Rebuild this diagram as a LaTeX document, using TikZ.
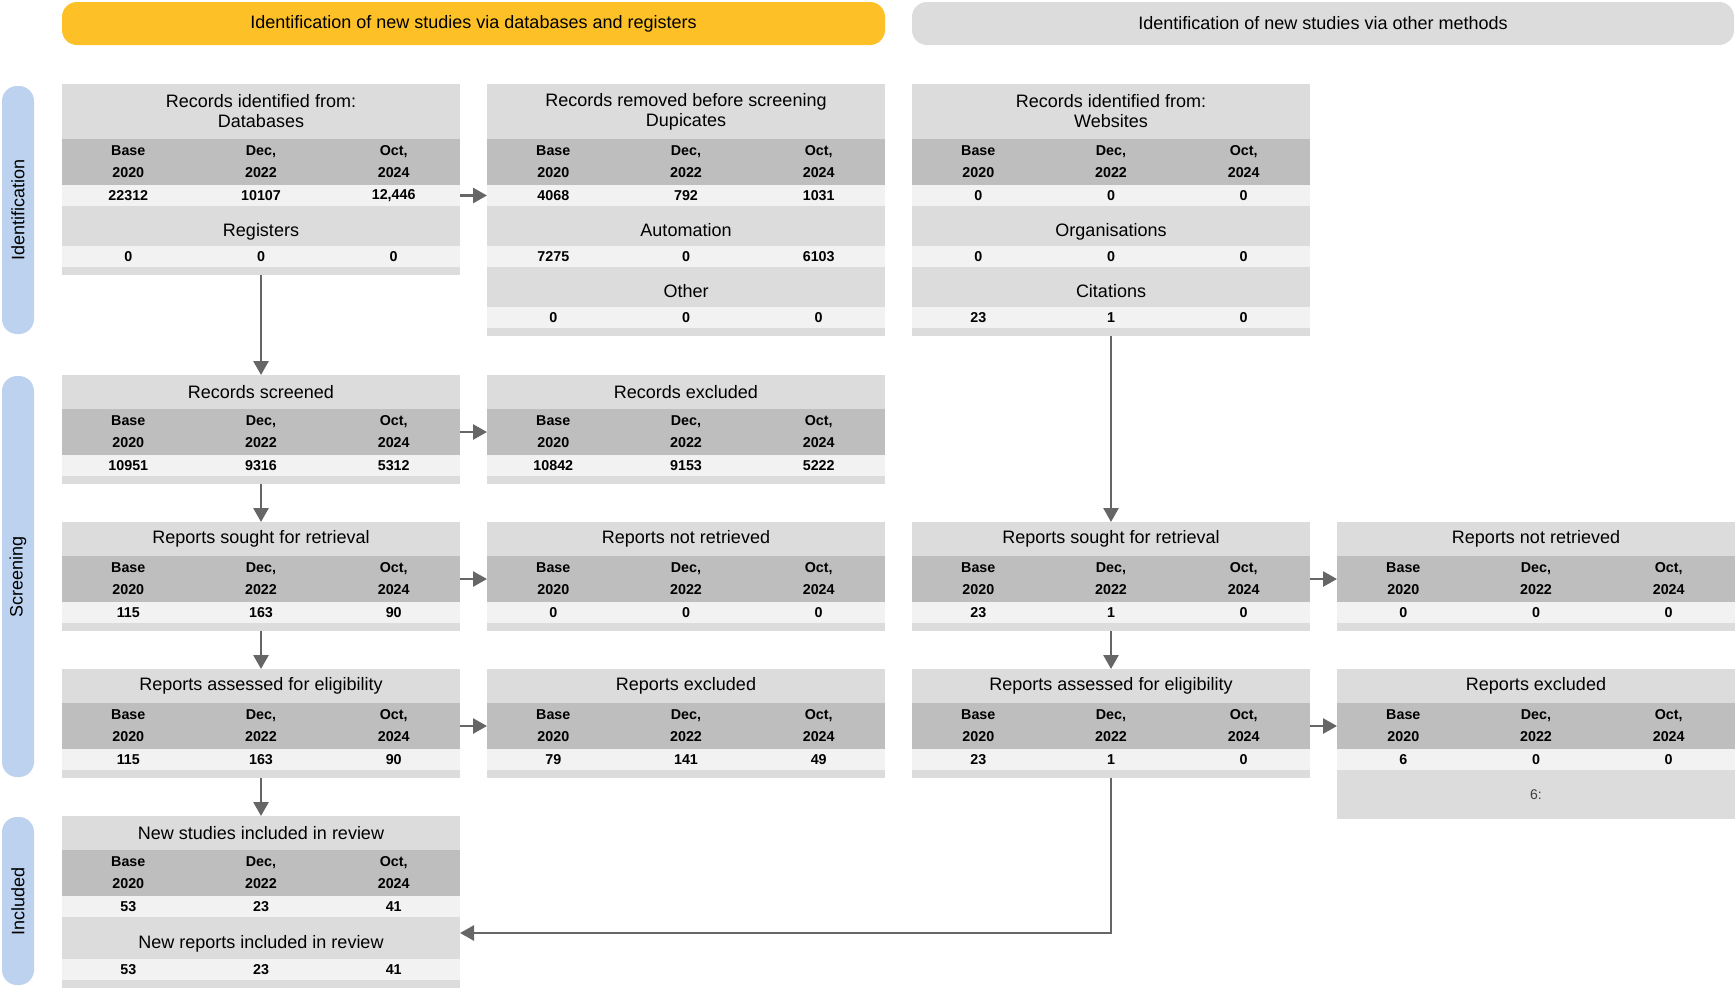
\documentclass[tikz,border=0pt]{standalone}
\usepackage{fontspec}
\setmainfont{Liberation Sans}
\usetikzlibrary{arrows.meta,positioning}

\definecolor{ttlgray}{RGB}{220,220,220}
\definecolor{hdgray}{RGB}{190,190,190}
\definecolor{valgray}{RGB}{242,242,242}
\definecolor{bannergold}{RGB}{253,193,39}
\definecolor{phaseblue}{RGB}{188,210,238}
\definecolor{arrgray}{RGB}{102,102,102}

% year header row below a band
\newcommand{\hdrow}[2]{%
  \node [hdband, below=0pt of #2] (#1) {};
  \node [hdtext] (#1-a) at ([xshift=66.3pt]#1.west) {Base\\2020};
  \node [hdtext] (#1-b) at (#1.center) {Dec,\\2022};
  \node [hdtext] (#1-c) at ([xshift=-66.3pt]#1.east) {Oct,\\2024};
}
% row of three counts below a band
\newcommand{\valrow}[5]{%
  \node [valband, below=0pt of #2] (#1) {};
  \node [valtext] (#1-a) at ([xshift=66.3pt]#1.west) {#3};
  \node [valtext] (#1-b) at (#1.center) {#4};
  \node [valtext] (#1-c) at ([xshift=-66.3pt]#1.east) {#5};
}

\begin{document}
\begin{tikzpicture}[x=1pt, y=-1pt,
  ttlband/.style={fill=ttlgray, minimum width=398pt, inner sep=0pt, outer sep=0pt, align=center, font=\fontsize{18}{20}\selectfont},
  subband/.style={ttlband, minimum height=40pt, text height=20pt, text depth=0pt},
  hdband/.style={fill=hdgray, minimum width=398pt, minimum height=46pt, inner sep=0pt, outer sep=0pt},
  valband/.style={fill=valgray, minimum width=398pt, minimum height=21pt, inner sep=0pt, outer sep=0pt},
  stripband/.style={fill=ttlgray, minimum width=398pt, minimum height=8pt, inner sep=0pt, outer sep=0pt},
  hdtext/.style={align=center, inner sep=0pt, font=\bfseries\fontsize{14.3}{22}\selectfont},
  valtext/.style={inner sep=0pt, font=\bfseries\fontsize{14.3}{16}\selectfont},
  banner/.style={minimum height=43pt, rounded corners=15pt, inner sep=0pt, font=\fontsize{18}{20}\selectfont},
  phase/.style={fill=phaseblue, rotate=90, minimum height=32pt, rounded corners=15pt, inner sep=0pt, font=\fontsize{18}{20}\selectfont},
  arr/.style={draw=arrgray, line width=2.7pt, -{Triangle[length=14pt,width=15pt]}}]
\useasboundingbox (0,0) rectangle (1736,989);

\node [banner, fill=bannergold, minimum width=823pt] (dbhead) at (473.5,23.5) {Identification of new studies via databases and registers};
\node [banner, fill=ttlgray, minimum width=822pt] (othhead) at (1323,23.5) {Identification of new studies via other methods};

\node [phase, minimum width=248pt] (idph) at (18,210) {Identification};
\node [phase, minimum width=401pt] (scph) at (18,576.5) {Screening};
\node [phase, minimum width=168pt] (inph) at (18,901) {Included};

% identification
\node [ttlband, minimum height=55pt, anchor=north west] (db) at (62,84) {Records identified from:\\Databases};
\hdrow{dbh}{db}
\valrow{dbv}{dbh}{22312}{10107}{12,446}
\node [subband, below=0pt of dbv] (reg) {Registers};
\valrow{regv}{reg}{0}{0}{0}
\node [stripband, below=0pt of regv] (dbs) {};

\node [ttlband, minimum height=55pt, anchor=north west] (rm) at (487,84) {Records removed before screening\\Dupicates};
\hdrow{rmh}{rm}
\valrow{rmv}{rmh}{4068}{792}{1031}
\node [subband, below=0pt of rmv] (auto) {Automation};
\valrow{autov}{auto}{7275}{0}{6103}
\node [subband, below=0pt of autov] (oth) {Other};
\valrow{othv}{oth}{0}{0}{0}
\node [stripband, below=0pt of othv] (rms) {};

\node [ttlband, minimum height=55pt, anchor=north west] (web) at (912,84) {Records identified from:\\Websites};
\hdrow{webh}{web}
\valrow{webv}{webh}{0}{0}{0}
\node [subband, below=0pt of webv] (org) {Organisations};
\valrow{orgv}{org}{0}{0}{0}
\node [subband, below=0pt of orgv] (cit) {Citations};
\valrow{citv}{cit}{23}{1}{0}
\node [stripband, below=0pt of citv] (webs) {};

% screening
\node [ttlband, minimum height=34pt, anchor=north west] (scr) at (62,375) {Records screened};
\hdrow{scrh}{scr}
\valrow{scrv}{scrh}{10951}{9316}{5312}
\node [stripband, below=0pt of scrv] (scrs) {};

\node [ttlband, minimum height=34pt, anchor=north west] (exc) at (487,375) {Records excluded};
\hdrow{exch}{exc}
\valrow{excv}{exch}{10842}{9153}{5222}
\node [stripband, below=0pt of excv] (excs) {};

\node [ttlband, minimum height=34pt, anchor=north west] (sou) at (62,522) {Reports sought for retrieval};
\hdrow{souh}{sou}
\valrow{souv}{souh}{115}{163}{90}
\node [stripband, below=0pt of souv] (sous) {};

\node [ttlband, minimum height=34pt, anchor=north west] (nret) at (487,522) {Reports not retrieved};
\hdrow{nreth}{nret}
\valrow{nretv}{nreth}{0}{0}{0}
\node [stripband, below=0pt of nretv] (nrets) {};

\node [ttlband, minimum height=34pt, anchor=north west] (osou) at (912,522) {Reports sought for retrieval};
\hdrow{osouh}{osou}
\valrow{osouv}{osouh}{23}{1}{0}
\node [stripband, below=0pt of osouv] (osous) {};

\node [ttlband, minimum height=34pt, anchor=north west] (onret) at (1337,522) {Reports not retrieved};
\hdrow{onreth}{onret}
\valrow{onretv}{onreth}{0}{0}{0}
\node [stripband, below=0pt of onretv] (onrets) {};

\node [ttlband, minimum height=34pt, anchor=north west] (elig) at (62,669) {Reports assessed for eligibility};
\hdrow{eligh}{elig}
\valrow{eligv}{eligh}{115}{163}{90}
\node [stripband, below=0pt of eligv] (eligs) {};

\node [ttlband, minimum height=34pt, anchor=north west] (rexc) at (487,669) {Reports excluded};
\hdrow{rexch}{rexc}
\valrow{rexcv}{rexch}{79}{141}{49}
\node [stripband, below=0pt of rexcv] (rexcs) {};

\node [ttlband, minimum height=34pt, anchor=north west] (oelig) at (912,669) {Reports assessed for eligibility};
\hdrow{oeligh}{oelig}
\valrow{oeligv}{oeligh}{23}{1}{0}
\node [stripband, below=0pt of oeligv] (oeligs) {};

\node [ttlband, minimum height=34pt, anchor=north west] (orexc) at (1337,669) {Reports excluded};
\hdrow{orexch}{orexc}
\valrow{orexcv}{orexch}{6}{0}{0}
\node [ttlband, minimum height=49pt, below=0pt of orexcv, text=black!75, font=\fontsize{14}{16}\selectfont] (orexcn) {6:};

% included
\node [ttlband, minimum height=34pt, anchor=north west] (incl) at (62,816) {New studies included in review};
\hdrow{inclh}{incl}
\valrow{inclv}{inclh}{53}{23}{41}
\node [subband, minimum height=42pt, below=0pt of inclv] (nrep) {New reports included in review};
\valrow{nrepv}{nrep}{53}{23}{41}
\node [stripband, below=0pt of nrepv] (incls) {};

\begin{scope}[every path/.style={arr}]
  \draw (dbs.south) -- (scr.north);
  \draw (scrs.south) -- (sou.north);
  \draw (sous.south) -- (elig.north);
  \draw (eligs.south) -- (incl.north);
  \draw (dbv.east) -- (rmv.west);
  \draw (scrh.east) -- (exch.west);
  \draw (souh.east) -- (nreth.west);
  \draw (eligh.east) -- (rexch.west);
  \draw (webs.south) -- (osou.north);
  \draw (osous.south) -- (oelig.north);
  \draw (osouh.east) -- (onreth.west);
  \draw (oeligh.east) -- (orexch.west);
  \draw (oeligs.south) |- ([yshift=5pt]nrep.east);
\end{scope}
\end{tikzpicture}
\end{document}
